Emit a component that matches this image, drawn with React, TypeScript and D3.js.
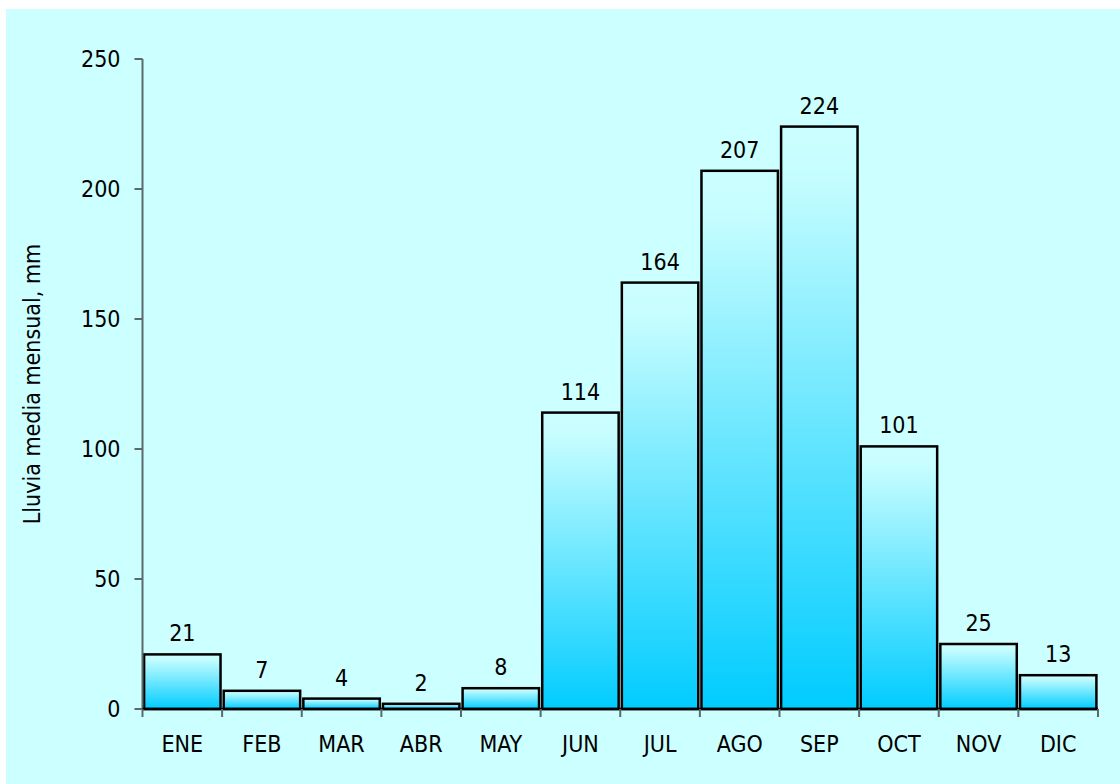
import React from "react";
import * as d3 from "d3";

// Monthly mean rainfall (mm)
const months = ["ENE", "FEB", "MAR", "ABR", "MAY", "JUN", "JUL", "AGO", "SEP", "OCT", "NOV", "DIC"];
const rainfall = [21, 7, 4, 2, 8, 114, 164, 207, 224, 101, 25, 13];
const yTicks = [0, 50, 100, 150, 200, 250];
const yTitle = "Lluvia media mensual, mm";

const W = 1120;
const H = 784;
const margin = { left: 142.5, right: 22, top: 59, bottom: 75 };
const FONT = "'DejaVu Sans Condensed', 'DejaVu Sans', Verdana, sans-serif";
const FS = 23;

export default function App() {
  const x = d3
    .scaleBand<string>()
    .domain(months)
    .range([margin.left, W - margin.right])
    .paddingInner(0.04)
    .paddingOuter(0.02);
  const y = d3.scaleLinear().domain([0, 250]).range([H - margin.bottom, margin.top]);
  const x0 = margin.left;
  const x1 = W - margin.right;
  const y0 = y(0);

  const textStyle: React.CSSProperties = {
    fontFamily: FONT,
    fontStretch: "condensed",
    fontSize: FS,
    fill: "#000",
  };

  return (
    <svg
      width={W}
      height={H}
      style={{ position: "absolute", left: 0, top: 0, display: "block" }}
    >
      <defs>
        <linearGradient id="barFill" x1="0" y1="0" x2="0" y2="1">
          <stop offset="0%" stopColor="#ccffff" />
          <stop offset="8%" stopColor="#c6fdff" />
          <stop offset="100%" stopColor="#00ccff" />
        </linearGradient>
      </defs>
      <rect x={0} y={0} width={W} height={H} fill="#ffffff" />
      <rect x={6} y={9} width={W - 6} height={H - 9} fill="#ccffff" />

      {/* bars */}
      {months.map((m, i) => {
        const v = rainfall[i];
        const bx = x(m)!;
        const by = y(v);
        return (
          <g key={m}>
            <rect
              x={bx}
              y={by}
              width={x.bandwidth()}
              height={y0 - by}
              fill="url(#barFill)"
              stroke="#000"
              strokeWidth={2.5}
            />
            <text
              x={bx + x.bandwidth() / 2}
              y={by - 13}
              textAnchor="middle"
              style={textStyle}
            >
              {v}
            </text>
          </g>
        );
      })}

      {/* y axis */}
      <line x1={x0} x2={x0} y1={y(250)} y2={y0} stroke="#5a6a6a" strokeWidth={2} />
      {yTicks.map((t) => (
        <g key={t}>
          <line x1={x0 - 8} x2={x0} y1={y(t)} y2={y(t)} stroke="#5a6a6a" strokeWidth={2} />
          <text
            x={x0 - 22}
            y={y(t)}
            dy="0.36em"
            textAnchor="end"
            style={textStyle}
          >
            {t}
          </text>
        </g>
      ))}

      {/* x axis */}
      <line x1={x0} x2={x1} y1={y0} y2={y0} stroke="#000" strokeWidth={2.5} />
      {d3.range(months.length + 1).map((i) => (
        <line
          key={i}
          x1={x0 + (i * (x1 - x0)) / months.length}
          x2={x0 + (i * (x1 - x0)) / months.length}
          y1={y0}
          y2={y0 + 8}
          stroke="#5a6a6a"
          strokeWidth={2}
        />
      ))}
      {months.map((m) => (
        <text
          key={m}
          x={x(m)! + x.bandwidth() / 2}
          y={752}
          textAnchor="middle"
          style={textStyle}
        >
          {m}
        </text>
      ))}

      {/* y axis title */}
      <text
        transform={`translate(40, ${(y(250) + y0) / 2}) rotate(-90)`}
        textAnchor="middle"
        style={textStyle}
      >
        {yTitle}
      </text>
    </svg>
  );
}
